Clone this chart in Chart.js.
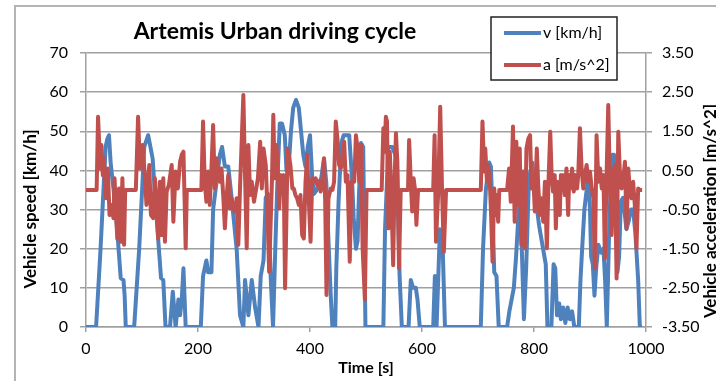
<!DOCTYPE html>
<html lang="en">
  <head>
    <meta charset="UTF-8" />
    <title>Artemis Urban driving cycle</title>
    <script src="https://cdn.jsdelivr.net/npm/chart.js@4.4.0/dist/chart.umd.min.js"></script>
    <style>
      html,
      body {
        margin: 0;
        padding: 0;
        background: #fff;
      }
      #wrap {
        position: relative;
        width: 716px;
        height: 381px;
      }
    </style>
  </head>
  <body>
    <div id="wrap"><canvas id="cycleChart"></canvas></div>

    <script>
      // Vehicle speed over time
      const speedTime = [
        0, 18, 26, 35, 38, 41, 44, 53, 62, 67,
        69, 71, 86, 95, 104, 111, 119, 125, 134, 138,
        142, 150, 155, 160, 165, 168, 171, 174, 178, 205,
        209, 215, 218, 224, 227, 233, 239, 243, 248, 254,
        260, 269, 275, 281, 284, 290, 296, 302, 308, 312,
        317, 321, 325, 330, 334, 338, 342, 346, 350, 355,
        358, 362, 366, 370, 375, 380, 384, 388, 392, 396,
        400, 404, 407, 412, 416, 420, 425, 429, 433, 437,
        440, 445, 447, 451, 456, 460, 466, 470, 475, 478,
        482, 485, 487, 491, 495, 499, 531, 534, 540, 547,
        555, 560, 564, 576, 580, 584, 589, 592, 596, 620,
        623, 626, 632, 637, 641, 705, 709, 714, 720, 723,
        726, 729, 733, 737, 752, 756, 760, 764, 768, 772,
        775, 778, 782, 786, 791, 797, 803, 809, 815, 821,
        824, 831, 835, 838, 841, 845, 848, 852, 856, 860,
        864, 868, 872, 880, 883, 886, 890, 894, 897, 900,
        902, 905, 908, 911, 915, 920, 924, 927, 930, 935,
        940, 943, 946, 949, 952, 955, 959, 962, 965, 969,
        973, 977, 981, 986, 989, 993,
      ];
      const speedKmh = [
        0, 0, 20, 46, 48, 49, 42, 30, 12.5, 12,
        8, 0, 0, 20, 46, 49, 43, 30, 12.5, 12,
        0, 0, 9, 0, 7, 3, 7, 15, 0, 0,
        13, 17, 14, 14, 30, 37, 44, 46, 41, 41,
        33, 20, 3, 0, 12, 3, 12, 5, 0, 13,
        17, 33, 34, 12, 0, 20, 38, 52, 52, 49,
        40, 41, 50, 56, 58, 56, 50, 44, 41, 46,
        49, 38, 34, 35, 37, 38, 43, 37, 22, 8,
        0, 0, 15, 32, 47, 49, 49, 49, 38, 28,
        20, 22, 32, 47, 46, 0, 0, 25, 46, 46,
        43, 13, 0, 0, 12, 10, 10, 7, 0, 0,
        13, 0, 25, 20, 0, 0, 20, 35, 42, 41,
        29, 14, 13, 0, 0, 4, 7, 10, 18, 28,
        34, 21, 2, 15, 38, 42, 33, 26, 21, 16,
        0, 0, 16, 15, 3, 6, 2, 5, 1, 5,
        2, 4, 0, 0, 12, 20, 30, 35, 38, 30,
        18, 16, 8, 15, 21, 19, 20, 12, 0, 29,
        44, 44, 35, 14, 18, 32, 33, 29, 25, 27,
        30, 30, 24, 12, 0, 0,
      ];

      // Vehicle acceleration over time
      const accelTime = [
        0, 19, 21.5, 24, 25, 27.5, 30, 32, 36, 39,
        42, 45, 49, 51, 54, 56, 59, 62, 65, 68,
        70, 89, 93, 96.5, 101, 105, 108, 113, 116, 120,
        123, 126, 129, 132, 135, 138, 141, 144, 148, 153,
        156, 160, 164, 168, 171, 174, 176, 178, 180, 206,
        209, 212, 215, 218, 221, 224, 227, 230, 233, 236,
        239, 242, 245, 248, 251, 254, 257, 260, 263, 266,
        269, 272, 275, 281, 284, 287, 290, 293, 296, 300,
        304, 307, 311, 314, 317, 321, 324, 327, 332, 334.5,
        337, 340, 342, 345, 348, 351, 353, 355.5, 358, 360,
        362, 365, 368.5, 371, 374, 377, 380, 383, 386, 389,
        392, 395, 398, 401, 404, 407, 410, 413, 416, 419,
        422, 425, 427, 429.5, 433, 437, 440, 443, 446, 449,
        452, 455, 458, 461, 464, 467, 471, 474, 479, 482,
        485, 488, 491, 494, 498, 501, 528, 531, 533, 535.5,
        537.5, 540, 542.5, 545, 548.5, 551, 553.5, 556, 559, 562,
        575, 577, 580, 582.5, 585, 588, 590, 593, 620, 622.5,
        625, 629, 632.5, 636, 639, 643, 705, 708, 711, 713,
        716, 718, 721, 723, 726, 729, 731, 733.5, 736, 738,
        752, 755.5, 758.5, 762.5, 765.5, 768.5, 771.5, 774.5, 777.5, 780.5,
        783.5, 786.5, 790, 793, 795.5, 798.5, 801.5, 805, 807.5, 810.5,
        813.5, 816.5, 819.5, 823, 825.5, 829, 831.5, 834, 837, 839,
        841.5, 843, 846, 848, 850, 852, 855, 858, 861, 863,
        865, 868, 871, 874, 877, 879, 882, 885, 888, 891,
        894, 897, 900, 903, 906, 908.7, 911.7, 915, 918, 921,
        924, 926.6, 929.6, 932.6, 935.5, 938.5, 941.5, 944.5, 947.5, 950.5,
        953.5, 956.5, 959.5, 962.4, 965.3, 968.3, 971, 974, 977, 980,
        983, 986, 989, 993,
      ];
      const accelMs2 = [
        0, 0, 1.87, 1.06, 0.55, 1.15, 0.38, 0.81, -0.21, 0.55,
        -0.64, -0.38, -0.72, 0.3, -0.72, -1.24, 0.04, -1.32, 0.3, -1.4,
        0, 0, 1.87, 0.55, 1.15, 0.38, -0.38, 0.64, -0.64, -0.72,
        0.3, -0.38, -1.24, 0.21, -1.15, 0.3, -1.32, -0.04, 0.13, 0.64,
        -0.81, 0.47, 0.04, 0.72, 0.9, 0.98, -0.2, -1.49, 0, 0,
        1.75, 0.21, -0.3, 0.47, -0.38, 0.55, 1.66, 0.04, 0.81, 0.55,
        0.21, 0.55, -0.13, -0.98, -0.21, 0.38, -0.47, -0.21, -0.47, -0.55,
        -0.21, -1.4, 0.04, 2.43, 0.38, -1.49, 1.15, -0.13, 0.21, -0.3,
        0.04, 0.3, 1.23, 0.04, 1.06, 0.64, -0.47, -2.09, 0.21, 1.92,
        0.3, 1.15, 0.72, -0.47, 0.38, 0.21, 0.38, -2.51, -0.64, 1.06,
        0.9, 0.64, 0.04, 0.04, -0.13, -0.21, -0.38, -0.13, -1.15, -1.24,
        0.21, 0.9, -0.3, -1.32, 0.3, 0.21, 0.3, 0.13, 0.21, -0.04,
        0.21, 0.81, -0.21, -2.68, -0.21, 0.04, 0, 0.21, 1.75, 1.32,
        0.64, 0.55, 0.72, 1.23, 0.21, 0.38, -1.83, 0.21, 0.21, 1.4,
        1.06, 0.21, 1.15, -1.49, -2.8, 0, 0, 1.58, 0.98, 1.87,
        1.75, -0.98, 0.98, 0.04, -1.92, 0.21, 1.45, 0.72, -2.0, 0,
        0, 1.28, 0.21, -0.55, 0.3, -0.04, -0.89, 0, 0, 1.4,
        -1.32, -0.04, 2.13, -0.13, -1.58, 0, 0, 1.75, 0.47, 1.06,
        0.21, 0.64, 0.21, -0.47, -1.83, 0.04, -0.64, -0.13, -0.81, 0,
        0, 0.55, -0.3, 1.62, -0.81, 1.23, -0.38, 1.06, -1.4, 0.47,
        -1.49, 1.06, 1.32, 1.4, 0.04, 0.38, -0.55, 1.06, 0.13, -0.64,
        -0.21, -0.81, 0.21, -1.49, 0.04, 1.49, 0.38, -0.04, 0.38, -0.98,
        0.21, 0.13, -0.64, 0.38, 0.04, 0.38, -0.13, 0.55, -0.64, 0.38,
        0.04, 0.55, -0.04, 0.38, 0.04, 0.38, 1.58, 0.55, 0.04, 0.38,
        0.64, 0.21, 0.47, 0.04, -0.21, -2.0, 1.4, 0.21, 0.55, 0.04,
        0.38, -1.75, 0.38, 2.17, 0.21, -1.15, 0.38, 0.64, -2.26, 1.49,
        0.38, 0.04, 0.3, 0.72, -0.98, 0.55, 0.04, -0.21, 0.21, -0.38,
        -1.49, 0.04, 0, 0,
      ];

      // axis ranges
      const timeRange = [0, 1000, 200];
      const speedRange = [0, 70, 10];
      const accelRange = [-3.5, 3.5, 1];

      const chartTitle = "Artemis Urban driving cycle";
      const timeTitle = "Time [s]";
      const speedTitle = "Vehicle speed [km/h]";
      const accelTitle = "Vehicle acceleration [m/s^2]";
      const seriesLabels = ["v [km/h]", "a [m/s^2]"];
      const seriesColors = ["#4f81bd", "#c0504d"];

      const gridColor = "#a0a0a0";
      const fontFamily = "Lato, 'Liberation Sans', sans-serif";

      const toPoints = (xs, ys) => xs.map((x, i) => ({ x: x, y: ys[i] }));

      // frame, titles and the boxed legend
      const decorations = {
        id: "decorations",
        beforeDraw(chart) {
          const ctx = chart.ctx;
          ctx.save();
          ctx.fillStyle = "#fff";
          ctx.fillRect(0, 0, chart.width, chart.height);
          ctx.strokeStyle = "#b4b4b4";
          ctx.lineWidth = 2;
          ctx.strokeRect(15, 6, 800, 500);
          ctx.restore();
        },
        afterDraw(chart) {
          const ctx = chart.ctx;
          const area = chart.chartArea;
          ctx.save();
          ctx.fillStyle = "#000";
          ctx.textAlign = "center";
          ctx.textBaseline = "middle";

          ctx.font = "bold 23px " + fontFamily;
          ctx.fillText(chartTitle, 275, 32);

          ctx.font = "bold 16px " + fontFamily;
          ctx.fillText(timeTitle, (area.left + area.right) / 2, 368);

          ctx.font = "bold 17px " + fontFamily;
          ctx.save();
          ctx.translate(31, 209);
          ctx.rotate(-Math.PI / 2);
          ctx.fillText(speedTitle, 0, 0);
          ctx.restore();

          // the right-hand title runs off the edge of the canvas
          ctx.save();
          ctx.translate(716, 211);
          ctx.rotate(-Math.PI / 2);
          ctx.textBaseline = "alphabetic";
          ctx.fillText(accelTitle, 0, 0);
          ctx.restore();

          // legend box
          ctx.fillStyle = "#fff";
          ctx.fillRect(491, 17, 126, 63);
          ctx.strokeStyle = "#222";
          ctx.lineWidth = 1.5;
          ctx.strokeRect(491, 17, 126, 63);
          ctx.font = "16px " + fontFamily;
          ctx.textAlign = "left";
          seriesLabels.forEach((label, i) => {
            const y = 33 + i * 32;
            ctx.strokeStyle = seriesColors[i];
            ctx.lineWidth = 4;
            ctx.beginPath();
            ctx.moveTo(504, y);
            ctx.lineTo(541, y);
            ctx.stroke();
            ctx.fillStyle = "#000";
            ctx.fillText(label, 543, y);
          });
          ctx.restore();
        },
      };

      const tickFont = { family: fontFamily, size: 16 };

      new Chart(document.getElementById("cycleChart"), {
        type: "line",
        data: {
          datasets: [
            {
              label: seriesLabels[0],
              data: toPoints(speedTime, speedKmh),
              yAxisID: "y",
              borderColor: seriesColors[0],
              borderWidth: 4,
              borderJoinStyle: "round",
              pointRadius: 0,
              tension: 0,
              order: 1,
            },
            {
              label: seriesLabels[1],
              data: toPoints(accelTime, accelMs2),
              yAxisID: "y2",
              borderColor: seriesColors[1],
              borderWidth: 4,
              borderJoinStyle: "round",
              pointRadius: 0,
              tension: 0,
              order: 0,
            },
          ],
        },
        options: {
          responsive: true,
          maintainAspectRatio: false,
          animation: false,
          layout: { padding: { top: 53, left: 0, right: 0, bottom: 0 } },
          plugins: {
            legend: { display: false },
            title: { display: false },
            tooltip: { enabled: false },
          },
          scales: {
            x: {
              type: "linear",
              min: timeRange[0],
              max: timeRange[1],
              ticks: {
                stepSize: timeRange[2],
                color: "#000",
                font: tickFont,
                padding: 7,
                maxRotation: 0,
                callback: (v) => String(v),
              },
              grid: {
                drawOnChartArea: false,
                color: gridColor,
                lineWidth: 1.5,
                tickLength: 5,
              },
              border: { color: gridColor, width: 1.5 },
              afterFit(scale) {
                scale.height = 54;
              },
            },
            y: {
              position: "left",
              min: speedRange[0],
              max: speedRange[1],
              ticks: {
                stepSize: speedRange[2],
                color: "#000",
                font: tickFont,
                padding: 12,
              },
              grid: { color: gridColor, lineWidth: 1.5, tickLength: 6 },
              border: { color: gridColor, width: 1.5 },
              afterFit(scale) {
                scale.width = 86;
              },
            },
            y2: {
              position: "right",
              min: accelRange[0],
              max: accelRange[1],
              ticks: {
                stepSize: accelRange[2],
                color: "#000",
                font: tickFont,
                padding: 10,
                callback: (v) => v.toFixed(2),
              },
              grid: {
                drawOnChartArea: false,
                color: gridColor,
                lineWidth: 1.5,
                tickLength: 6,
              },
              border: { color: gridColor, width: 1.5 },
              afterFit(scale) {
                scale.width = 70;
              },
            },
          },
        },
        plugins: [decorations],
      });
    </script>
  </body>
</html>
